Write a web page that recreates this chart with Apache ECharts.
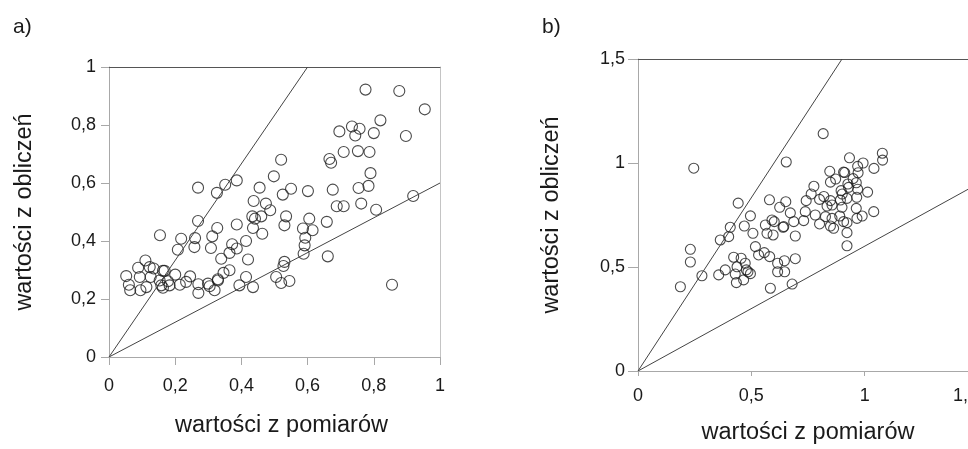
<!DOCTYPE html>
<html>
<head>
<meta charset="utf-8">
<script src="https://cdn.jsdelivr.net/npm/echarts@6/dist/echarts.min.js"></script>
<style>
  html, body { margin: 0; padding: 0; background: #fff; }
  #chart { width: 968px; height: 449px; }
</style>
</head>
<body>
<div id="chart"></div>
<script>
// a) measured vs computed values, range 0..1
const pointsA = [
  [0.775, 0.922], [0.877, 0.917], [0.954, 0.854], [0.820, 0.816], [0.734, 0.795], [0.757, 0.787],
  [0.696, 0.778], [0.744, 0.764], [0.800, 0.772], [0.897, 0.762], [0.709, 0.707], [0.752, 0.710],
  [0.787, 0.707], [0.520, 0.680], [0.666, 0.683], [0.671, 0.670], [0.498, 0.623], [0.790, 0.634],
  [0.269, 0.584], [0.326, 0.566], [0.351, 0.594], [0.386, 0.609], [0.455, 0.584], [0.525, 0.560],
  [0.550, 0.580], [0.601, 0.572], [0.676, 0.577], [0.754, 0.583], [0.784, 0.590], [0.919, 0.555],
  [0.437, 0.538], [0.474, 0.529], [0.487, 0.506], [0.762, 0.529], [0.688, 0.520], [0.709, 0.520],
  [0.807, 0.508], [0.433, 0.485], [0.460, 0.485], [0.441, 0.477], [0.535, 0.485], [0.605, 0.477],
  [0.658, 0.466], [0.530, 0.454], [0.269, 0.469], [0.386, 0.457], [0.435, 0.445], [0.327, 0.445],
  [0.463, 0.425], [0.586, 0.443], [0.615, 0.437], [0.593, 0.411], [0.154, 0.420], [0.218, 0.408],
  [0.260, 0.410], [0.312, 0.416], [0.414, 0.400], [0.372, 0.389], [0.208, 0.370], [0.258, 0.379],
  [0.308, 0.376], [0.364, 0.359], [0.386, 0.374], [0.591, 0.385], [0.588, 0.356], [0.339, 0.339],
  [0.420, 0.336], [0.661, 0.347], [0.530, 0.328], [0.527, 0.314], [0.364, 0.299], [0.346, 0.290],
  [0.329, 0.268], [0.110, 0.333], [0.088, 0.308], [0.052, 0.279], [0.135, 0.305], [0.163, 0.297],
  [0.126, 0.276], [0.153, 0.264], [0.093, 0.276], [0.060, 0.249], [0.064, 0.230], [0.095, 0.230],
  [0.113, 0.241], [0.158, 0.247], [0.163, 0.239], [0.183, 0.247], [0.200, 0.284], [0.214, 0.249],
  [0.233, 0.259], [0.245, 0.278], [0.270, 0.251], [0.270, 0.221], [0.299, 0.253], [0.304, 0.244],
  [0.319, 0.230], [0.329, 0.264], [0.394, 0.247], [0.414, 0.276], [0.435, 0.241], [0.505, 0.276],
  [0.520, 0.255], [0.545, 0.262], [0.855, 0.249], [0.178, 0.261], [0.123, 0.310], [0.168, 0.297]
];
const upperLineA = [[0, 0], [0.6, 1]];
const lowerLineA = [[0, 0], [1, 0.6]];

// b) measured vs computed values, range 0..1.5
const pointsB = [
  [0.817, 1.141], [0.246, 0.975], [0.654, 1.005], [1.078, 1.047], [1.079, 1.014], [0.933, 1.025],
  [0.993, 1.000], [1.041, 0.974], [0.969, 0.984], [0.912, 0.954], [0.846, 0.960], [0.907, 0.956],
  [0.971, 0.953], [0.872, 0.923], [0.949, 0.925], [0.963, 0.905], [0.776, 0.888], [0.849, 0.908],
  [0.926, 0.899], [0.929, 0.883], [0.896, 0.867], [0.969, 0.874], [1.013, 0.860], [0.764, 0.851],
  [0.820, 0.839], [0.901, 0.851], [0.965, 0.835], [0.742, 0.819], [0.801, 0.825], [0.849, 0.819],
  [0.893, 0.822], [0.922, 0.830], [0.834, 0.793], [0.856, 0.798], [0.442, 0.807], [0.580, 0.823],
  [0.652, 0.814], [0.625, 0.787], [0.672, 0.760], [0.900, 0.787], [0.963, 0.782], [1.040, 0.766],
  [0.738, 0.766], [0.782, 0.750], [0.827, 0.742], [0.856, 0.734], [0.890, 0.745], [0.966, 0.734],
  [0.989, 0.745], [0.496, 0.746], [0.731, 0.723], [0.591, 0.726], [0.601, 0.718], [0.562, 0.702],
  [0.469, 0.697], [0.407, 0.691], [0.640, 0.691], [0.687, 0.718], [0.643, 0.694], [0.801, 0.707],
  [0.849, 0.697], [0.863, 0.686], [0.907, 0.718], [0.922, 0.713], [0.922, 0.665], [0.694, 0.649],
  [0.400, 0.646], [0.363, 0.630], [0.507, 0.662], [0.569, 0.662], [0.596, 0.654], [0.922, 0.602],
  [0.518, 0.598], [0.532, 0.558], [0.557, 0.569], [0.581, 0.550], [0.231, 0.585], [0.231, 0.524],
  [0.422, 0.547], [0.455, 0.542], [0.437, 0.501], [0.473, 0.518], [0.485, 0.477], [0.478, 0.486],
  [0.385, 0.486], [0.356, 0.462], [0.429, 0.466], [0.434, 0.425], [0.466, 0.438], [0.282, 0.458],
  [0.187, 0.405], [0.646, 0.530], [0.616, 0.518], [0.616, 0.477], [0.647, 0.477], [0.694, 0.540],
  [0.680, 0.418], [0.584, 0.398], [0.496, 0.468]
];
const upperLineB = [[0, 0], [0.9, 1.5]];
const lowerLineB = [[0, 0], [1.5, 0.9]];

const xTitle = "wartości z pomiarów";
const yTitle = "wartości z obliczeń";

const font = "Liberation Sans, Arial, sans-serif";
const axisGray = "#a8a8a8";
const ink = "#1a1a1a";
const comma = (v) => String(+v.toFixed(1)).replace(".", ",");

function labels(margin, extra) {
  return Object.assign({ color: ink, fontSize: 18, fontFamily: font, formatter: comma, margin }, extra);
}

function mainAxis(gridIndex, max, interval, extra) {
  return Object.assign({
    type: "value", gridIndex, min: 0, max, interval,
    splitLine: { show: false },
    axisLine: { show: true, onZero: false, lineStyle: { color: axisGray, width: 1 } },
    axisTick: { show: true, length: 8, lineStyle: { color: axisGray } },
    nameLocation: "middle",
    nameTextStyle: { color: ink, fontSize: 23.5, fontFamily: font }
  }, extra)
}

// plain lines closing the plot box (dark top, light right)
function borderAxis(gridIndex, max, position, color) {
  return {
    type: "value", gridIndex, min: 0, max, position,
    axisLine: { show: true, onZero: false, lineStyle: { color, width: 1 } },
    axisTick: { show: false }, axisLabel: { show: false }, splitLine: { show: false }
  }
}

const circleStyle = { color: "rgba(0,0,0,0)", borderColor: "#1e1e1e", borderWidth: 1.1 };
const refLine = { color: "#444", width: 1 };
const titleStyle = { fontSize: 21, fontWeight: "normal", color: ink, fontFamily: font };

const chart = echarts.init(document.getElementById("chart"), null, { renderer: "canvas" });
chart.setOption({
  animation: false,
  backgroundColor: "#fff",
  title: [
    { text: "a)", left: 8, top: 12, textStyle: titleStyle },
    { text: "b)", left: 537, top: 12, textStyle: titleStyle }
  ],
  grid: [
    { left: 109, top: 67, width: 331, height: 290, outerBoundsMode: "none", containLabel: false },
    { left: 638, top: 59, width: 340, height: 312, outerBoundsMode: "none", containLabel: false }
  ],
  xAxis: [
    mainAxis(0, 1, 0.2, {
      name: xTitle, nameGap: 57, axisLabel: labels(20),
      nameTextStyle: { color: ink, fontSize: 23.5, fontFamily: font, padding: [0, 0, 0, 14] }
    }),
    mainAxis(1, 1.5, 0.5, {
      name: xTitle, nameGap: 50,
      axisTick: { show: true, length: 5, lineStyle: { color: axisGray } },
      axisLabel: labels(16, { alignMaxLabel: "right" })
    }),
    borderAxis(0, 1, "top", "#555"),
    borderAxis(1, 1.5, "top", "#555")
  ],
  yAxis: [
    mainAxis(0, 1, 0.2, { name: yTitle, nameGap: 72, axisLabel: labels(13) }),
    mainAxis(1, 1.5, 0.5, {
      name: yTitle, nameGap: 74,
      axisTick: { show: true, length: 10, lineStyle: { color: axisGray } },
      axisLabel: labels(13)
    }),
    borderAxis(0, 1, "right", "#c4c4c4"),
    borderAxis(1, 1.5, "right", "#c4c4c4")
  ],
  series: [
    { type: "line", xAxisIndex: 0, yAxisIndex: 0, data: upperLineA, showSymbol: false, lineStyle: refLine, silent: true },
    { type: "line", xAxisIndex: 0, yAxisIndex: 0, data: lowerLineA, showSymbol: false, lineStyle: refLine, silent: true },
    { type: "scatter", xAxisIndex: 0, yAxisIndex: 0, data: pointsA, symbol: "circle", symbolSize: 11, itemStyle: circleStyle },
    { type: "line", xAxisIndex: 1, yAxisIndex: 1, data: upperLineB, showSymbol: false, lineStyle: refLine, silent: true },
    { type: "line", xAxisIndex: 1, yAxisIndex: 1, data: lowerLineB, showSymbol: false, lineStyle: refLine, silent: true },
    { type: "scatter", xAxisIndex: 1, yAxisIndex: 1, data: pointsB, symbol: "circle", symbolSize: 10, itemStyle: circleStyle }
  ]
});
</script>
</body>
</html>
